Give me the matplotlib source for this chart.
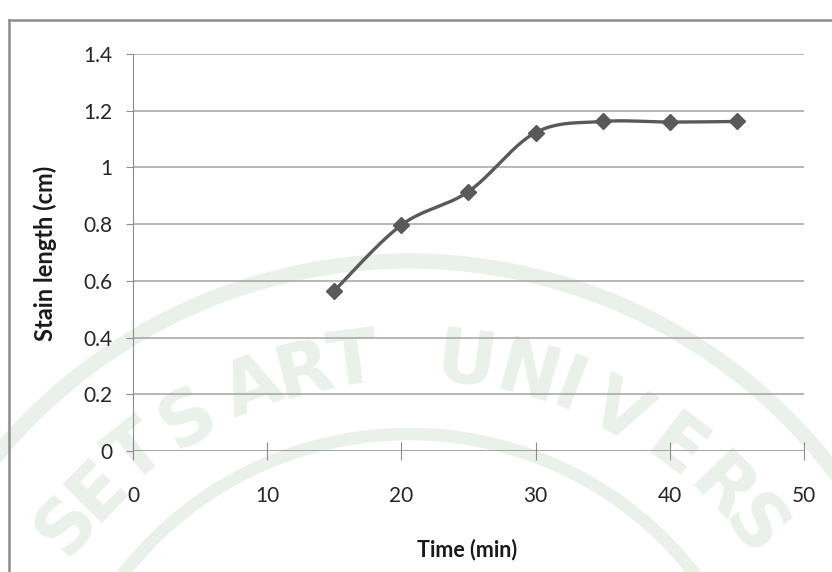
import numpy as np
import matplotlib
matplotlib.use("Agg")
import matplotlib.pyplot as plt
from matplotlib.lines import Line2D
from matplotlib.patches import Arc

plt.rcParams["font.family"] = ["Lato", "DejaVu Sans"]

# data
time_min = [15, 20, 25, 30, 35, 40, 45]
stain_cm = [0.565, 0.797, 0.915, 1.123, 1.162, 1.160, 1.162]
x_ticks = [0, 10, 20, 30, 40, 50]
y_ticks = [0, 0.2, 0.4, 0.6, 0.8, 1, 1.2, 1.4]
y_tick_labels = ["0", "0.2", "0.4", "0.6", "0.8", "1", "1.2", "1.4"]
# visible part of the faint university seal watermark
wm_letters = list("SETSARTUNIVERS")
wm_angles = [141.5, 135.5, 128.5, 120.4, 111, 104, 97.4, 82.6, 74.2, 68.6, 61.3, 52.4, 44.5, 38]

W, H = 832, 572
fig = plt.figure(figsize=(W / 100, H / 100), dpi=100)

wm_color = "#eaf0ea"
cx, cy, r = 409, 796, 436
for ch, ang in zip(wm_letters, wm_angles):
    px = cx + r * np.cos(np.radians(ang))
    py = cy - r * np.sin(np.radians(ang))
    fig.text(px / W, 1 - py / H, ch, fontsize=53, fontweight="bold",
             family="DejaVu Sans", color=wm_color, rotation=ang - 90,
             ha="center", va="center", zorder=0)
for rad, lw in [(535, 11), (362, 9)]:
    fig.add_artist(Arc((cx, H - cy), 2 * rad, 2 * rad, theta1=20, theta2=160,
                       transform=None, color=wm_color, lw=lw, zorder=0))

# chart frame (top and left edges only visible)
fig.add_artist(Line2D([9 / W, 1], [1 - 20 / H, 1 - 20 / H], transform=fig.transFigure,
                      color="#8c8c8c", lw=1.8))
fig.add_artist(Line2D([9 / W, 9 / W], [0, 1 - 20 / H], transform=fig.transFigure,
                      color="#8c8c8c", lw=1.8))

left, right, bottom, top = 133, 804, 451, 54
ax = fig.add_axes([left / W, 1 - bottom / H, (right - left) / W, (bottom - top) / H])
ax.set_zorder(2)
ax.patch.set_alpha(0)
ax.set_xlim(0, 50)
ax.set_ylim(0, 1.4)

# smoothed line like Excel (bezier through the points, in screen units)
sx = (right - left) / 50.0
sy = (bottom - top) / 1.4
P = np.column_stack([np.array(time_min) * sx, np.array(stain_cm) * sy])
Pp = np.vstack([P[0], P, P[-1]])
curve = []
t = np.linspace(0, 1, 40)[:, None]
for i in range(1, len(Pp) - 2):
    p0, p1, p2, p3 = Pp[i - 1], Pp[i], Pp[i + 1], Pp[i + 2]
    c1 = p1 + (p2 - p0) / 6.0
    c2 = p2 - (p3 - p1) / 6.0
    seg = ((1 - t) ** 3) * p1 + 3 * ((1 - t) ** 2) * t * c1 + 3 * (1 - t) * t ** 2 * c2 + t ** 3 * p2
    curve.append(seg)
curve = np.vstack(curve)
ax.plot(curve[:, 0] / sx, curve[:, 1] / sy, color="#595959", lw=2.4, zorder=3,
        solid_capstyle="round")
ax.plot(time_min, stain_cm, linestyle="none", marker="D", markersize=8.5,
        color="#595959", zorder=4)

for yv in y_ticks[1:]:
    ax.axhline(yv, color="#a3a3a3", lw=1.1, zorder=1)

for side in ["top", "right", "bottom"]:
    ax.spines[side].set_visible(False)
ax.spines["left"].set_color("#8c8c8c")
ax.axhline(0, color="#8c8c8c", lw=1.1, zorder=2)

ax.set_xticks(x_ticks)
ax.set_yticks(y_ticks)
ax.set_yticklabels(y_tick_labels)
ax.tick_params(axis="x", direction="inout", length=13, color="#8c8c8c",
               labelsize=15, labelcolor="#262626", pad=19)
ax.tick_params(axis="y", direction="out", length=5, color="#8c8c8c",
               labelsize=15, labelcolor="#262626", pad=10)

fig.text(467 / W, 1 - 550 / H, "Time (min)", fontsize=15.5,
         fontweight="bold", ha="center", va="center", color="#1a1a1a", zorder=3)
fig.text(45 / W, 1 - 253 / H, "Stain length (cm)", fontsize=17, fontweight="bold",
         rotation=90, ha="center", va="center", color="#1a1a1a", zorder=3)

fig.savefig("out.png", dpi=100)
